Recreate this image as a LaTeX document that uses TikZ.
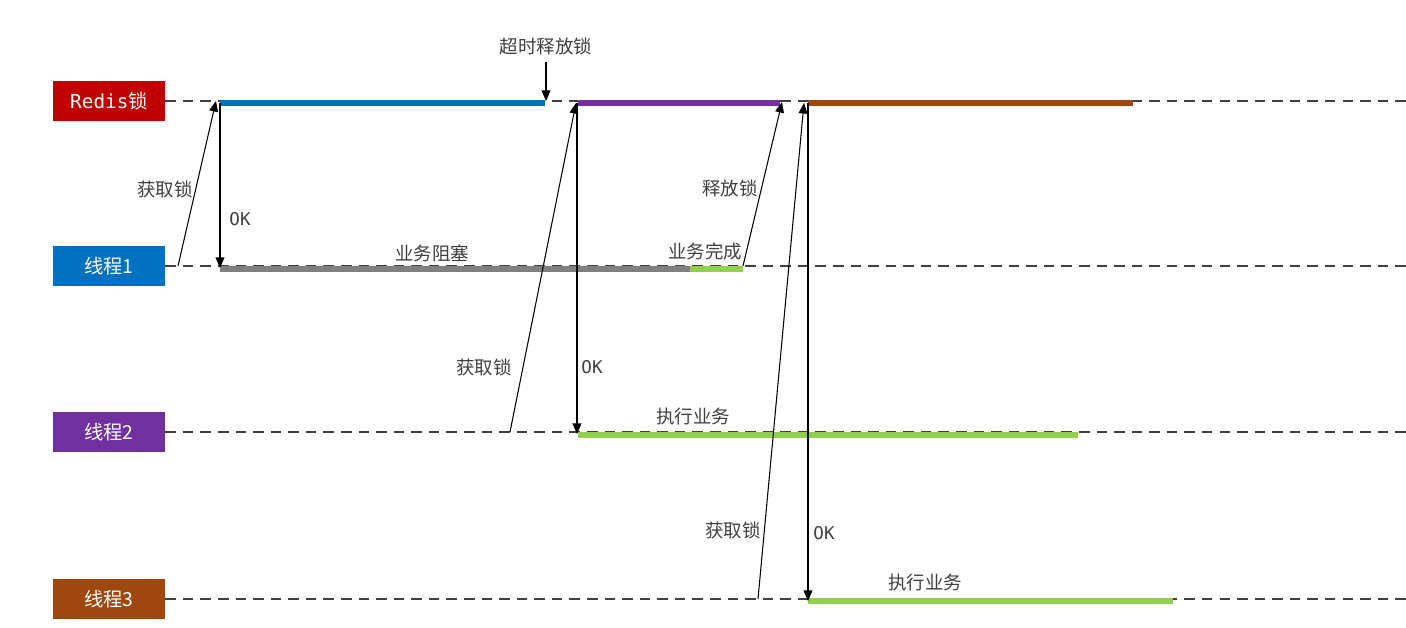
\documentclass[tikz,border=0pt]{standalone}
\usepackage{fontspec}
\setmainfont{Noto Sans CJK SC}
\newfontfamily\monof{DejaVu Sans Mono}
\usetikzlibrary{arrows.meta}
\definecolor{cred}{HTML}{C00000}
\definecolor{cblue}{HTML}{0070C0}
\definecolor{cpurp}{HTML}{7030A0}
\definecolor{cbrown}{HTML}{9E480E}
\definecolor{cgreen}{HTML}{92D050}
\definecolor{cgray}{HTML}{808080}
\definecolor{ctxt}{HTML}{404040}
\begin{document}
\begin{tikzpicture}[x=0.02cm,y=-0.02cm,
  lbox/.style={minimum width=2.24cm,minimum height=0.8cm,inner sep=0,text=white,font=\fontsize{11}{13}\selectfont},
  life/.style={dashed,dash pattern=on 6pt off 4pt,black!75,line width=0.6pt},
  seg/.style={line width=3.5pt},
  msg/.style={-{Triangle[length=6pt,width=5pt]},line width=0.6pt},
  lab/.style={text=ctxt,font=\fontsize{10.5}{12}\selectfont,inner sep=1pt}]
\useasboundingbox (0,0) rectangle (1406,627);
\node[lbox,fill=cred] (r) at (109,101) {{\monof Redis}锁};
\node[lbox,fill=cblue] (t1) at (109,266) {线程1};
\node[lbox,fill=cpurp] (t2) at (109,432) {线程2};
\node[lbox,fill=cbrown] (t3) at (109,599) {线程3};
\coordinate (re) at (1406,101);
\coordinate (t1e) at (1406,266);
\coordinate (t2e) at (1406,432);
\coordinate (t3e) at (1406,599);
\draw[life] (r.east) -- (re);
\draw[life] (t1.east) -- (t1e);
\draw[life] (t2.east) -- (t2e);
\draw[life] (t3.east) -- (t3e);
\coordinate (a1) at (220,103); \coordinate (a2) at (545,103);
\coordinate (b1) at (578,103); \coordinate (b2) at (780,103);
\coordinate (c1) at (808,103); \coordinate (c2) at (1133,103);
\draw[seg,cblue] (a1) -- (a2);
\draw[seg,cpurp] (b1) -- (b2);
\draw[seg,cbrown] (c1) -- (c2);
\coordinate (g1) at (220,269); \coordinate (g2) at (690,269); \coordinate (g3) at (743,269);
\draw[seg,cgray] (g1) -- (g2);
\draw[seg,cgreen] (g2) -- (g3);
\coordinate (h1) at (578,435); \coordinate (h2) at (1078,435);
\draw[seg,cgreen] (h1) -- (h2);
\coordinate (k1) at (808,601); \coordinate (k2) at (1173,601);
\draw[seg,cgreen] (k1) -- (k2);
\coordinate (p1) at (178,266); \coordinate (q1) at (216,101);
\draw[msg] (p1) -- (q1);
\coordinate (o1a) at (220,103); \coordinate (o1b) at (220,268);
\draw[msg] (o1a) -- (o1b);
\coordinate (s1) at (546,62); \coordinate (s2) at (546,101);
\draw[msg] (s1) -- (s2);
\coordinate (p2) at (510,432); \coordinate (q2) at (576,103);
\draw[msg] (p2) -- (q2);
\coordinate (o2a) at (577,103); \coordinate (o2b) at (577,434);
\draw[msg] (o2a) -- (o2b);
\coordinate (p3) at (743,266); \coordinate (q3) at (782,102);
\draw[msg] (p3) -- (q3);
\coordinate (p4) at (758,599); \coordinate (q4) at (804,103);
\draw[msg] (p4) -- (q4);
\coordinate (o3a) at (808,103); \coordinate (o3b) at (808,601);
\draw[msg] (o3a) -- (o3b);
\node[lab] (l1) at (165,189) {获取锁};
\node[lab,font=\monof\fontsize{10}{12}\selectfont] (l2) at (240,219) {OK};
\node[lab] (l3) at (546,46) {超时释放锁};
\node[lab] (l4) at (432,253) {业务阻塞};
\node[lab] (l5) at (705,251) {业务完成};
\node[lab] (l6) at (730,188) {释放锁};
\node[lab] (l7) at (484,367) {获取锁};
\node[lab,font=\monof\fontsize{10}{12}\selectfont] (l8) at (592,367) {OK};
\node[lab] (l9) at (693,416) {执行业务};
\node[lab] (l10) at (733,530) {获取锁};
\node[lab,font=\monof\fontsize{10}{12}\selectfont] (l11) at (824,533) {OK};
\node[lab] (l12) at (925,582) {执行业务};
\end{tikzpicture}
\end{document}
